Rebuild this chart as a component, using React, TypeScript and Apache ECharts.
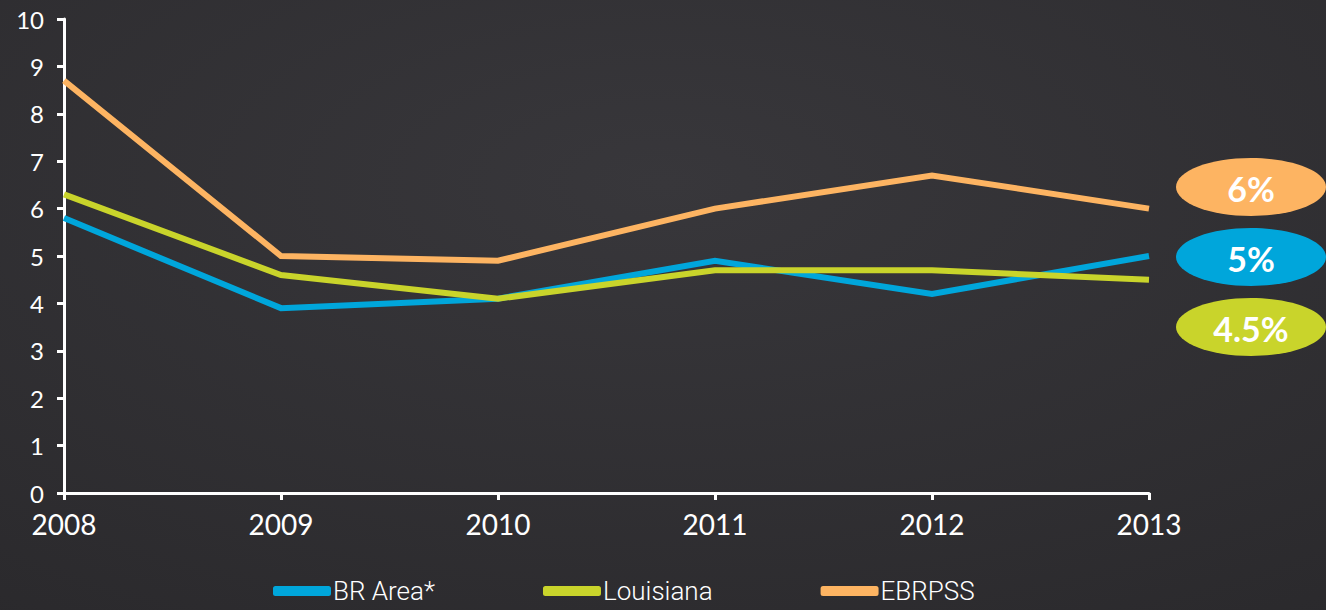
import React, { useEffect, useRef } from "react";
import * as echarts from "echarts";

const years = ["2008", "2009", "2010", "2011", "2012", "2013"];
const brArea = [5.8, 3.9, 4.1, 4.9, 4.2, 5.0];
const louisiana = [6.3, 4.6, 4.1, 4.7, 4.7, 4.5];
const ebrpss = [8.7, 5.0, 4.9, 6.0, 6.7, 6.0];
const badgeLabels = ["6%", "5%", "4.5%"];

const BLUE = "#00A6DB";
const GREEN = "#C9D42B";
const ORANGE = "#FDB462";

export default function App() {
  const ref = useRef<HTMLDivElement>(null);
  useEffect(() => {
    const chart = echarts.init(ref.current!, null, { renderer: "svg" });
    const font = "Lato, 'Open Sans', sans-serif";
    const mkSeries = (name: string, data: number[], color: string) => ({
      name,
      type: "line",
      data,
      symbol: "none",
      lineStyle: { color, width: 6, join: "miter" },
      itemStyle: { color },
    });
    const badges = [
      { fill: ORANGE, cy: 187, text: badgeLabels[0] },
      { fill: BLUE, cy: 257, text: badgeLabels[1] },
      { fill: GREEN, cy: 327, text: badgeLabels[2] },
    ];
    chart.setOption({
      animation: false,
      backgroundColor: {
        type: "radial",
        x: 0.5,
        y: 0.3,
        r: 0.9,
        colorStops: [
          { offset: 0, color: "#38373b" },
          { offset: 1, color: "#2a292c" },
        ],
      },
      grid: { left: 64, right: 177, top: 19, bottom: 117 },
      xAxis: {
        type: "category",
        data: years,
        boundaryGap: false,
        axisLine: { lineStyle: { color: "#fff", width: 3 } },
        axisTick: { show: true, length: 7, lineStyle: { color: "#fff", width: 3 } },
        axisLabel: { color: "#fff", fontSize: 28, fontFamily: font, margin: 17 },
        splitLine: { show: false },
      },
      yAxis: {
        type: "value",
        min: 0,
        max: 10,
        interval: 1,
        axisLine: { show: true, lineStyle: { color: "#fff", width: 3 } },
        axisTick: { show: true, length: 7, lineStyle: { color: "#fff", width: 3 } },
        axisLabel: { color: "#fff", fontSize: 24, fontFamily: font, margin: 20 },
        splitLine: { show: false },
      },
      legend: {
        top: 572,
        left: 268,
        itemWidth: 58,
        itemHeight: 10,
        itemGap: 108,
        icon: "roundRect",
        textStyle: {
          color: "#fff",
          fontSize: 26,
          lineHeight: 28,
          fontWeight: 300,
          fontFamily: "Roboto, sans-serif",
          padding: [0, 0, 0, -3],
        },
        data: ["BR Area*", "Louisiana", "EBRPSS"],
      },
      series: [
        mkSeries("BR Area*", brArea, BLUE),
        mkSeries("Louisiana", louisiana, GREEN),
        mkSeries("EBRPSS", ebrpss, ORANGE),
      ],
      graphic: badges.flatMap((b) => [
        {
          type: "ellipse",
          shape: { cx: 1251, cy: b.cy, rx: 75, ry: 29 },
          style: { fill: b.fill },
        },
        {
          type: "text",
          x: 1251,
          y: b.cy + 1,
          style: {
            text: b.text,
            fill: "#fff",
            font: `bold 34px ${font}`,
            align: "center",
            verticalAlign: "middle",
          },
        },
      ]),
    });
    return () => chart.dispose();
  }, []);
  return <div ref={ref} style={{ width: 1326, height: 610, position: "absolute", left: 0, top: 0 }} />;
}
